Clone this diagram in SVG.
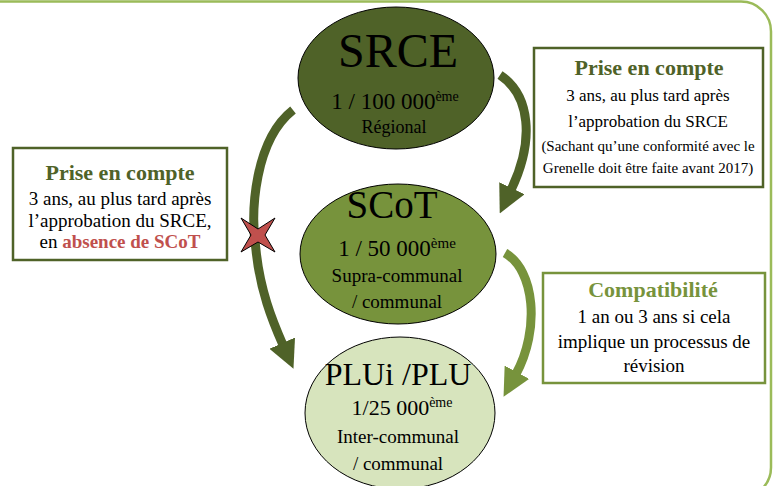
<svg xmlns="http://www.w3.org/2000/svg" width="773" height="486" viewBox="0 0 773 486">
  <style>
    text { font-family: "Liberation Serif", "Times New Roman", serif; fill: #000; }
    .node { stroke: #000; stroke-width: 1; }
    .box { fill: #fff; stroke-width: 2.5; }
    .arrow { fill: none; stroke-width: 9; }
    .title { font-weight: bold; font-size: 22px; }
    .sup { font-size: 14px; }
  </style>
  <defs>
    <marker id="headDark" markerUnits="userSpaceOnUse" viewBox="0 -14 28 28" markerWidth="28" markerHeight="28" refX="2" refY="0" orient="auto">
      <path d="M0,-14 L28,0 L0,14 z" fill="#4f6228"/>
    </marker>
    <marker id="headLight" markerUnits="userSpaceOnUse" viewBox="0 -14 28 28" markerWidth="28" markerHeight="28" refX="2" refY="0" orient="auto">
      <path d="M0,-14 L28,0 L0,14 z" fill="#77933c"/>
    </marker>
  </defs>

  <rect x="-40" y="1.5" width="811" height="496" rx="30" ry="30" fill="none" stroke="#9bbb59" stroke-width="2.5"/>

  <g id="connectors">
    <path class="arrow" stroke="#4f6228" d="M293,110 C255,140 250,210 256,250 C260,290 272,320 283,345" marker-end="url(#headDark)"/>
    <path class="arrow" stroke="#4f6228" d="M500,75 C530,95 535,140 511,190" marker-end="url(#headDark)"/>
    <path class="arrow" stroke="#77933c" d="M505,253 C535,270 540,330 516,374" marker-end="url(#headLight)"/>
    <polygon points="241,218 258,229 275,218 265,235 275,252 258,242 241,252 251,235" fill="#c0504d" stroke="#000" stroke-width="1"/>
  </g>

  <g id="srce">
    <ellipse class="node" cx="396" cy="78" rx="98" ry="71" fill="#4f6228"/>
    <text x="398" y="67" font-size="48" text-anchor="middle">SRCE</text>
    <text x="395" y="109" font-size="23" text-anchor="middle">1 / 100 000<tspan class="sup" font-size="15" dy="-8">ème</tspan></text>
    <text x="394" y="133" font-size="18" text-anchor="middle">Régional</text>
  </g>

  <g id="scot">
    <ellipse class="node" cx="398" cy="254" rx="98" ry="70" fill="#77933c"/>
    <text x="392" y="218" font-size="39" text-anchor="middle">SCoT</text>
    <text x="397" y="256" font-size="23" text-anchor="middle">1 / 50 000<tspan font-size="15" dy="-8">ème</tspan></text>
    <text x="397" y="282" font-size="19" text-anchor="middle">Supra-communal</text>
    <text x="397" y="308" font-size="19" text-anchor="middle">/ communal</text>
  </g>

  <g id="plu">
    <ellipse class="node" cx="400" cy="413" rx="95" ry="76" fill="#d7e4bd"/>
    <text x="398" y="385" font-size="32" text-anchor="middle">PLUi /PLU</text>
    <text x="402" y="415" font-size="22" text-anchor="middle">1/25 000<tspan font-size="14" dy="-8">ème</tspan></text>
    <text x="398" y="443" font-size="19" text-anchor="middle">Inter-communal</text>
    <text x="398" y="470" font-size="19" text-anchor="middle">/ communal</text>
  </g>

  <g id="box-left">
    <rect class="box" x="13" y="148" width="214" height="112" stroke="#4f6228"/>
    <text class="title" x="120" y="180" text-anchor="middle" fill="#4f6228" style="fill:#4f6228">Prise en compte</text>
    <text x="120" y="205" font-size="19" text-anchor="middle">3 ans, au plus tard après</text>
    <text x="120" y="227" font-size="19" text-anchor="middle">l’approbation du SRCE,</text>
    <text x="120" y="248" font-size="19" text-anchor="middle">en <tspan font-weight="bold" style="fill:#c0504d">absence de SCoT</tspan></text>
  </g>

  <g id="box-right-top">
    <rect class="box" x="534" y="48" width="229" height="139" stroke="#4f6228"/>
    <text class="title" x="649" y="75" text-anchor="middle" style="fill:#4f6228">Prise en compte</text>
    <text x="648" y="101" font-size="17" text-anchor="middle">3 ans, au plus tard après</text>
    <text x="648" y="127" font-size="17" text-anchor="middle">l’approbation du SRCE</text>
    <text x="648" y="151" font-size="15" text-anchor="middle">(Sachant qu’une conformité avec le</text>
    <text x="648" y="173" font-size="15" text-anchor="middle">Grenelle doit être faite avant 2017)</text>
  </g>

  <g id="box-right-bottom">
    <rect class="box" x="543" y="273" width="222" height="110" stroke="#77933c"/>
    <text class="title" x="653" y="297" text-anchor="middle" style="fill:#77933c">Compatibilité</text>
    <text x="654" y="323" font-size="19" text-anchor="middle">1 an ou 3 ans si cela</text>
    <text x="654" y="348" font-size="19" text-anchor="middle">implique un processus de</text>
    <text x="654" y="372" font-size="19" text-anchor="middle">révision</text>
  </g>
</svg>
